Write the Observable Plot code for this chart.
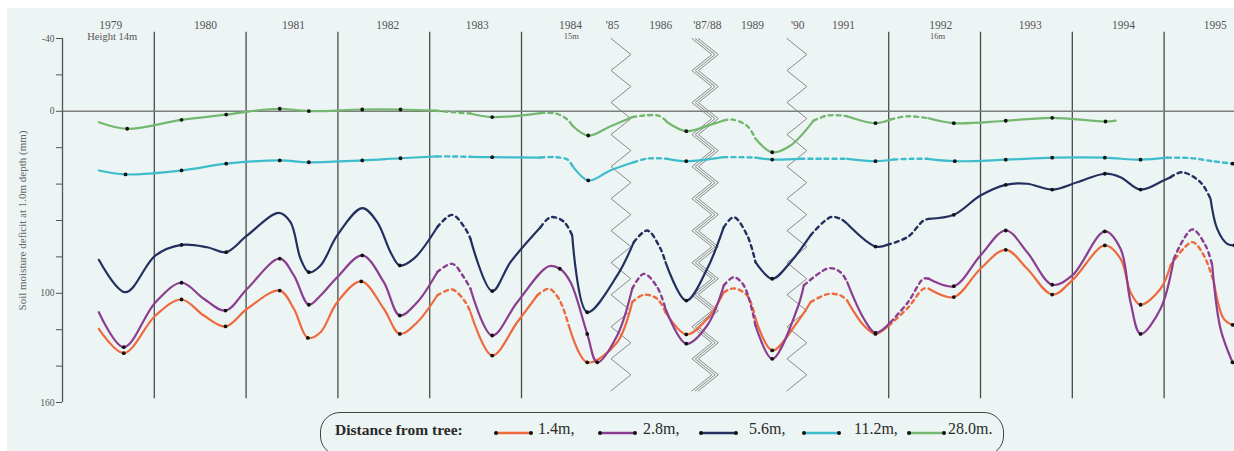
<!DOCTYPE html>
<html>
<head>
<meta charset="utf-8">
<script src="https://cdn.jsdelivr.net/npm/d3@7"></script>
<script src="https://cdn.jsdelivr.net/npm/@observablehq/plot@0.6"></script>
<style>
  html, body { margin: 0; padding: 0; background: #ffffff; }
  #wrap { position: relative; width: 1234px; height: 451px; overflow: hidden; font-family: "Liberation Serif", "DejaVu Serif", serif; }
  #paper { position: absolute; left: 7px; top: 8px; right: 0; bottom: 0; background: #edf4f4; }
  #chart { position: absolute; left: 0; top: 0; }
  #legend { position: absolute; left: 320px; top: 412px; width: 684px; height: 44px; border: 1.6px solid #444; border-radius: 20px; box-sizing: border-box; }
  #legend .t { position: absolute; top: 7px; font-size: 16px; color: #2a2a2a; white-space: nowrap; }
  #legend .title { font-weight: bold; font-size: 15.5px; top: 8px; }
  #legend svg { position: absolute; top: 16px; }
</style>
</head>
<body>
<div id="wrap">
  <div id="paper"></div>
  <div id="chart"></div>
  <div id="legend"></div>
</div>
<script>
// ---- Data (x = month on the compressed time axis, counted from Jan 1979; y = deficit in mm) ----
// code: "o" measured point (dot), "s" point on the drawn curve, "d" interpolated (dashed) point
const series = ["1.4m", "2.8m", "5.6m", "11.2m", "28.0m"];
const seriesColors = ["#ee6a3d", "#8b3e90", "#23305f", "#3dbccc", "#74b86f"];

const d14 = [
  [4.75,119.5,"s"],[8.01,132.9,"o"],[12.16,112.2,"s"],[15.56,103.4,"o"],[18.47,112.2,"s"],[21.31,118.2,"o"],
  [24.14,108.5,"s"],[28.4,98.5,"o"],[30.24,108.5,"s"],[32.07,124.5,"o"],[33.73,121.4,"s"],[35.91,104.9,"s"],
  [39.05,93.5,"o"],[42.0,108.5,"s"],[44.09,122.3,"o"],[46.37,115.9,"s"],[48.98,101.2,"s"],
  [50.94,97.9,"d"],[52.68,104.9,"d"],
  [53.33,110.4,"s"],[56.17,134.2,"o"],[59.44,115.9,"s"],[62.05,101.2,"s"],
  [63.57,97.5,"d"],[64.88,103.0,"d"],
  [66.18,117.7,"s"],[68.59,137.9,"o"],[72.51,126.9,"s"],[74.47,104.9,"s"],
  [75.99,100.8,"d"],[77.74,103.0,"d"],
  [78.82,110.4,"s"],[81.54,122.6,"o"],[84.27,114.0,"s"],[86.44,99.4,"s"],
  [87.75,97.3,"d"],[89.5,101.2,"d"],
  [90.59,114.0,"s"],[92.77,131.4,"o"],[96.04,115.9,"s"],[97.78,104.9,"s"],
  [100.17,100.3,"d"],[101.7,101.2,"d"],
  [102.57,104.0,"s"],[104.75,117.7,"s"],[106.27,122.3,"o"],[108.01,117.7,"s"],
  [110.5,108.0,"d"],[112.55,97.5,"d"],
  [113.24,97.5,"s"],[116.51,102.1,"o"],[119.99,86.5,"s"],[123.3,76.1,"o"],[126.1,86.5,"s"],[129.37,100.7,"o"],
  [131.99,92.9,"s"],[136.25,73.7,"o"],[138.3,81.0,"s"],[139.61,99.4,"s"],[140.92,106.3,"o"],[143.53,97.5,"s"],[144.84,84.7,"s"],
  [147.67,71.9,"d"],[149.19,79.2,"d"],
  [150.5,93.9,"s"],[151.8,114.0,"s"],[152.94,117.3,"o"]
];
const d28 = [
  [4.75,110.4,"s"],[8.01,129.6,"o"],[12.16,104.9,"s"],[15.56,94.2,"o"],[18.47,103.0,"s"],[21.31,109.5,"o"],
  [24.14,97.5,"s"],[28.4,81.0,"o"],[30.24,90.2,"s"],[32.2,106.3,"o"],[33.73,101.2,"s"],[35.91,91.2,"s"],
  [39.18,79.2,"o"],[42.0,93.9,"s"],[44.09,112.2,"o"],[46.37,104.9,"s"],[48.98,88.4,"s"],
  [50.94,83.8,"d"],[52.46,91.2,"d"],
  [53.33,97.5,"s"],[56.17,123.2,"o"],[59.44,104.9,"s"],[63.57,85.1,"s"],[65.01,86.5,"o"],[66.41,93.9,"s"],
  [68.59,122.3,"o"],[69.9,137.9,"o"],[72.51,123.2,"s"],[74.47,97.5,"s"],
  [75.99,89.3,"d"],[77.74,96.6,"d"],
  [78.82,108.5,"s"],[81.54,127.7,"o"],[84.27,117.7,"s"],[86.44,95.7,"s"],
  [87.75,91.2,"d"],[89.06,95.7,"d"],
  [90.59,117.7,"s"],[92.77,136.0,"o"],[96.04,108.5,"s"],[96.9,95.7,"s"],
  [100.17,86.2,"d"],[101.7,88.4,"d"],
  [102.57,93.9,"s"],[104.75,114.0,"s"],[106.27,121.7,"o"],[108.24,115.9,"s"],
  [110.5,105.0,"d"],[112.55,92.0,"d"],
  [113.24,92.0,"s"],[116.51,96.1,"o"],[119.99,79.2,"s"],[123.3,65.5,"o"],[126.1,77.4,"s"],[129.37,95.3,"o"],
  [131.99,90.2,"s"],[136.25,66.0,"o"],[138.3,75.5,"s"],[139.61,104.9,"s"],[140.92,122.3,"o"],[143.53,108.5,"s"],[145.27,81.0,"s"],
  [147.67,64.9,"d"],[149.41,73.7,"d"],
  [150.29,84.7,"s"],[151.37,119.5,"s"],[152.94,137.9,"o"]
];
const d56 = [
  [4.75,81.6,"s"],[8.24,99.4,"s"],[12.16,79.2,"s"],[15.56,73.4,"o"],[18.92,74.7,"s"],[21.4,77.4,"o"],
  [24.14,68.2,"s"],[28.27,55.8,"s"],[29.8,60.9,"s"],[31.11,80.9,"s"],[32.2,88.4,"o"],[33.73,84.7,"s"],
  [35.91,68.2,"s"],[39.18,53.2,"s"],[41.14,60.9,"s"],[42.88,77.4,"s"],[44.09,84.7,"o"],[45.92,81.0,"s"],[48.98,63.7,"s"],
  [50.94,56.9,"d"],[52.68,64.6,"d"],
  [53.33,70.1,"s"],[56.17,98.8,"o"],[58.56,82.9,"s"],[62.48,63.7,"s"],
  [63.79,58.2,"d"],[65.5,60.5,"d"],
  [66.63,68.2,"s"],[68.59,110.4,"o"],[72.51,90.2,"s"],[74.68,71.9,"s"],
  [76.43,65.5,"d"],[78.17,75.5,"d"],
  [78.82,82.9,"s"],[81.54,104.0,"o"],[84.27,86.5,"s"],[86.44,63.7,"s"],
  [87.75,58.2,"d"],[89.5,68.2,"d"],
  [90.59,82.9,"s"],[92.77,92.0,"o"],[95.16,82.9,"s"],[97.78,68.2,"s"],
  [100.39,58.2,"d"],[101.7,59.1,"d"],
  [102.57,61.8,"s"],[106.27,74.3,"o"],[107.8,73.4,"s"],
  [110.5,69.0,"d"],[112.55,60.0,"d"],
  [113.24,59.1,"s"],[116.51,56.9,"o"],[119.99,46.3,"s"],[123.3,40.4,"o"],[126.1,39.8,"s"],[129.37,43.0,"o"],
  [132.64,39.0,"s"],[136.25,34.3,"o"],[138.3,36.2,"s"],[140.92,43.0,"o"],[143.92,38.0,"s"],[144.84,36.2,"s"],
  [146.37,33.5,"d"],[148.76,39.0,"d"],
  [150.07,48.1,"s"],[150.94,64.6,"s"],[152.24,72.8,"s"],[153.2,73.7,"o"]
];
const d112 = [
  [4.75,32.5,"s"],[8.24,34.7,"o"],[15.56,32.5,"o"],[21.4,28.8,"o"],[28.4,27.0,"o"],[32.2,28.0,"o"],
  [39.18,27.0,"o"],[44.18,25.8,"o"],[48.98,24.8,"s"],
  [51.0,24.8,"d"],
  [53.33,25.0,"s"],[56.17,25.2,"o"],[62.48,25.4,"s"],
  [64.5,25.2,"d"],[66.0,26.5,"d"],
  [66.63,29.8,"s"],[68.72,38.0,"o"],[71.6,32.5,"s"],[74.64,28.0,"s"],
  [76.5,25.9,"d"],
  [79.05,26.1,"s"],[81.54,27.4,"o"],[86.4,25.2,"s"],
  [88.5,25.2,"d"],
  [90.59,25.5,"s"],[92.77,26.5,"o"],[96.47,26.1,"s"],
  [99.5,26.1,"d"],
  [102.57,26.1,"s"],[106.27,27.4,"o"],[108.63,26.5,"s"],
  [111.0,26.1,"d"],
  [113.07,26.1,"s"],[116.64,27.4,"o"],[123.3,26.6,"o"],[129.37,25.5,"o"],[136.25,25.5,"o"],[140.92,26.6,"o"],[144.41,25.5,"s"],
  [147.5,25.7,"d"],[150.5,27.5,"d"],
  [152.94,28.8,"o"]
];
const d280 = [
  [4.75,6.0,"s"],[8.46,9.6,"o"],[15.56,4.7,"o"],[21.4,1.8,"o"],[24.5,0.0,"s"],[28.4,-1.4,"o"],[32.2,-0.1,"o"],
  [39.18,-1.0,"o"],[44.18,-1.0,"o"],[48.76,-0.4,"s"],
  [51.0,0.5,"d"],
  [53.33,1.2,"s"],[56.17,3.2,"o"],[62.48,1.0,"s"],
  [64.5,1.2,"d"],[66.0,4.5,"d"],
  [66.63,7.8,"s"],[68.72,13.3,"o"],[71.5,8.5,"s"],[74.47,3.2,"s"],
  [76.0,2.3,"d"],[78.0,2.5,"d"],
  [79.05,6.0,"s"],[81.54,10.9,"o"],[84.27,8.0,"s"],[86.4,5.1,"s"],
  [87.5,4.5,"d"],[89.5,8.0,"d"],
  [90.59,15.1,"s"],[92.77,22.5,"o"],[95.16,18.8,"s"],[98.17,5.1,"s"],
  [100.0,2.3,"d"],[101.8,2.3,"d"],
  [102.57,2.7,"s"],[106.27,6.5,"o"],[108.24,4.5,"s"],
  [110.5,2.7,"d"],
  [113.2,3.8,"s"],[116.51,6.5,"o"],[123.3,5.2,"o"],[129.37,3.6,"o"],[136.34,5.6,"o"],[137.65,5.1,"s"]
];
const seriesData = [d14, d28, d56, d112, d280];

// axes and annotations
const yTicks = [-40, -20, 0, 20, 40, 60, 80, 100, 120, 140, 160];
const yTickLabels = [-40, 0, 100, 160];
const yAxisTitle = "Soil moisture deficit at 1.0m depth (mm)";
const yearLines = [12, 24, 36, 48, 60, 108, 120, 132, 144];
const breakMonths = [73, 84, 96];
const breakStrands = [1, 3, 1];
const yearNames = ["1979","1980","1981","1982","1983","1984","'85","1986","'87/88","1989","'90","1991","1992","1993","1994","1995"];
const yearNameMonths = [6.3, 18.7, 30.2, 42.5, 54.2, 66.4, 71.9, 78.2, 84.3, 90.2, 96.1, 102.1, 114.8, 126.5, 138.7, 150.7];
const heightNotes = ["Height 14m", "15m", "16m"];
const heightNoteMonths = [6.5, 66.5, 114.4];

// ---- Build tables ----
const solidRows = [], dashRows = [], dotRows = [];
seriesData.forEach((pts, si) => {
  const name = series[si];
  let segId = 0, cur = null;
  const push = (rows, p, id) => rows.push({series: name, seg: name + "-" + id, m: p[0], v: p[1]});
  let segs = [];
  pts.forEach((p, i) => {
    const dash = p[2] === "d";
    if (!cur || cur.dash !== dash) {
      const next = {dash, pts: []};
      if (cur) {
        const last = cur.pts[cur.pts.length - 1];
        if (!cur.dash && dash) next.pts.push(last);     // dashed piece starts at last solid point
        if (cur.dash && !dash) cur.pts.push(p);          // dashed piece ends at next solid point
      }
      cur = next; segs.push(cur);
    }
    cur.pts.push(p);
    if (p[2] === "o") dotRows.push({series: name, m: p[0], v: p[1]});
  });
  segs.forEach(s => { segId++; s.pts.forEach(p => push(s.dash ? dashRows : solidRows, p, segId)); });
});

const yearLabelRows = yearNames.map((t, i) => ({t, m: yearNameMonths[i]}));
const noteRows = heightNotes.map((t, i) => ({t, m: heightNoteMonths[i], big: i === 0}));

// zig-zag break markers (decoration generated from the break months)
const zigRows = [];
breakMonths.forEach((bm, bi) => {
  const n = breakStrands[bi];
  for (let k = 0; k < n; k++) {
    const off = (k - (n - 1) / 2) * 0.42;
    let i = 0;
    for (let y = -40; y <= 158; y += 8.8, i++) {
      zigRows.push({z: bi + "-" + k, m: bm + off + (i % 2 ? 1.3 : -1.3), v: y});
    }
  }
});

const serif = "'Liberation Serif', 'DejaVu Serif', serif";
const chart = Plot.plot({
  width: 1234,
  height: 410,
  marginLeft: 62,
  marginRight: 0,
  marginTop: 38,
  marginBottom: 8,
  style: {background: "transparent", fontFamily: serif, color: "#555"},
  x: {domain: [0, 153.2], axis: null},
  y: {domain: [-40, 160], reverse: true},
  color: {domain: series, range: seriesColors},
  marks: [
    Plot.ruleX(yearLines, {y1: -43.5, y2: 158, stroke: "#4a4a4a", strokeWidth: 1.3}),
    Plot.line(zigRows, {x: "m", y: "v", z: "z", stroke: "#8a8a8a", strokeWidth: 1}),
    Plot.ruleY([0], {stroke: "#7d7d7d", strokeWidth: 1.6}),
    Plot.ruleX([0], {y1: -40, y2: 160, stroke: "#555", strokeWidth: 1.3}),
    Plot.axisY({
      ticks: yTicks,
      tickFormat: d => yTickLabels.includes(d) ? String(d) : "",
      tickSize: 6,
      tickPadding: 2,
      fontSize: 9.5,
      stroke: "#555",
      label: null
    }),
    Plot.text([yAxisTitle], {text: d => d, frameAnchor: "left", textAnchor: "middle", rotate: -90, dx: -40, fontSize: 11, fill: "#666"}),
    Plot.line(dashRows, {x: "m", y: "v", z: "seg", stroke: "series", curve: "catmull-rom", strokeWidth: 2.4, strokeDasharray: "4,4"}),
    Plot.line(solidRows, {x: "m", y: "v", z: "seg", stroke: "series", curve: "catmull-rom", strokeWidth: 2.2}),
    Plot.dot(dotRows, {x: "m", y: "v", r: 1.9, fill: "#111"}),
    Plot.text(yearLabelRows, {x: "m", text: "t", frameAnchor: "top", lineAnchor: "middle", dy: -13, fontSize: 11.5, fill: "#555"}),
    Plot.text(noteRows, {x: "m", text: "t", frameAnchor: "top", lineAnchor: "middle", dy: -2, fontSize: d => d.big ? 10.5 : 8.5, fill: "#555"})
  ]
});
document.getElementById("chart").appendChild(chart);

// ---- Legend (HTML, below the plot) ----
const legend = d3.select("#legend");
const titleLeft = 14, swatchLeft = [172, 276, 377, 480, 585], labelLeft = [217, 322, 428, 533, 627];
legend.append("div").attr("class", "t title").style("left", titleLeft + "px").text("Distance from tree:");
series.forEach((s, i) => {
  const svg = legend.append("svg").attr("width", 42).attr("height", 8).style("left", swatchLeft[i] + "px");
  svg.append("line").attr("x1", 3).attr("x2", 38).attr("y1", 4).attr("y2", 4).attr("stroke", seriesColors[i]).attr("stroke-width", 2.5);
  svg.append("circle").attr("cx", 3).attr("cy", 4).attr("r", 2).attr("fill", "#111");
  svg.append("circle").attr("cx", 38).attr("cy", 4).attr("r", 2).attr("fill", "#111");
  legend.append("div").attr("class", "t").style("left", labelLeft[i] + "px").text(s + (i < series.length - 1 ? "," : "."));
});
</script>
</body>
</html>
